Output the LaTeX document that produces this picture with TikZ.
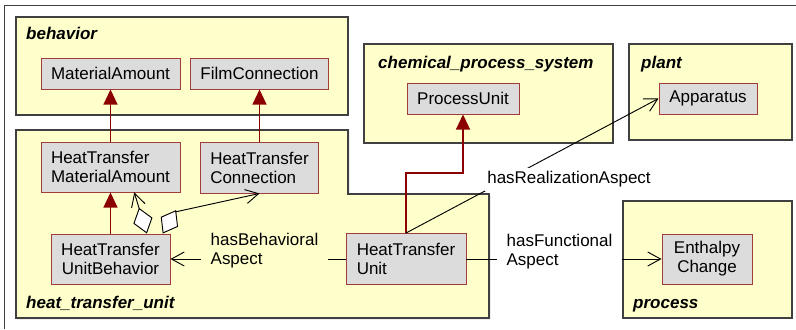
\documentclass[tikz,border=0pt]{standalone}
\usepackage{fontspec}
\setmainfont{Liberation Sans}
\usetikzlibrary{arrows.meta}

\definecolor{pkgfill}{HTML}{FFFFCC}
\definecolor{pkgline}{HTML}{404040}
\definecolor{boxfill}{HTML}{DCDCDC}
\definecolor{boxline}{HTML}{A03C3C}
\definecolor{genred}{HTML}{8B0000}
\newcommand{\umlfont}{\fontsize{14.5pt}{16.3pt}\selectfont}

\tikzset{
  pkg/.style={fill=pkgfill, draw=pkgline, line width=1pt,
    preaction={fill=black!55, transform canvas={xshift=1pt,yshift=-1pt}}},
  pkgtitle/.style={anchor=base west, inner sep=0pt, font=\umlfont\bfseries\itshape},
  sz/.style 2 args={minimum width=#1*0.03cm, minimum height=#2*0.03cm},
  cls/.style={draw=boxline, fill=boxfill, line width=0.8pt, inner sep=0pt},
  gen/.style={draw=genred, line width=1.3pt, -{Triangle[length=13pt,width=12pt]}},
  assoc/.style={line width=0.8pt, -{Straight Barb[length=11pt,width=12pt]}},
  agg/.style={line width=0.8pt, {Diamond[fill=white,length=23pt,width=17pt]}-{Straight Barb[length=11pt,width=12pt]}},
  rolelbl/.style={align=left, inner xsep=8.5pt, inner ysep=2pt}
}

\begin{document}
\begin{tikzpicture}[x=0.03cm,y=-0.03cm,every node/.style={font=\umlfont}]
\useasboundingbox (0,0) rectangle (796,329);
\draw[pkgline, line width=0.9pt] (4.5,329) |- (796,5.5);

% packages
\path[pkg] (16,17) rectangle (348,115);
\path[pkg] (364,44) rectangle (613,143);
\path[pkg] (629,44) rectangle (792,140);
\path[pkg] (16,130) -- (348,130) -- (348,194) -- (489,194) -- (489,318) -- (16,318) -- cycle;
\path[pkg] (623,201) rectangle (792,318);
\node[pkgtitle] (behtitle) at (26,39) {behavior};
\node[pkgtitle] (cpstitle) at (378,68) {chemical\_process\_system};
\node[pkgtitle] (planttitle) at (641,68) {plant};
\node[pkgtitle] (htutitle) at (26,308.5) {heat\_transfer\_unit};
\node[pkgtitle] (proctitle) at (633,308.5) {process};

% classes
\node[cls, sz={139}{31}] (matamount) at (110.5,73.5) {MaterialAmount};
\node[cls, sz={138}{31}] (filmconn) at (259.5,73.5) {FilmConnection};
\node[cls, sz={112}{31}] (procunit) at (463,98.5) {ProcessUnit};
\node[cls, sz={98}{31}] (apparatus) at (708,98.5) {Apparatus};
\node[cls, sz={139}{50}, align=left] (htmatamount) at (110.5,167) {HeatTransfer\\MaterialAmount};
\node[cls, sz={118}{51}, align=left] (htconn) at (259.5,167.5) {HeatTransfer\\Connection};
\node[cls, sz={119}{50}, align=center] (htunitbeh) at (110.5,259) {HeatTransfer\\UnitBehavior};
\node[cls, sz={120}{51}, align=left] (htunit) at (406,259) {HeatTransfer\\Unit};
\node[cls, sz={90}{50}, align=center] (enthalpy) at (707,259) {Enthalpy\\Change};

% generalizations
\draw[gen] (htmatamount.north) -- (matamount.south);
\draw[gen] (htconn.north) -- (filmconn.south);
\draw[gen] (htunitbeh.north) -- (htmatamount.south);
\draw[gen] (htunit.north) -- ++(0,-60) -| (procunit.south);

% associations
\coordinate (aggbend) at (175,212);
\draw[agg] (htunitbeh.35) -- (htmatamount.-47);
\draw[agg] (htunitbeh.26) -- (aggbend) -- (htconn.south);
\draw[assoc] (htunit.north) -- (apparatus.west);
\draw[assoc] (htunit.west) -- (htunitbeh.east);
\draw[assoc] (htunit.east) -- (enthalpy.west);
\node[rolelbl, fill=pkgfill] (behlbl) at (264.5,251) {hasBehavioral\\Aspect};
\node[rolelbl, fill=white] (funclbl) at (559.5,252) {hasFunctional\\Aspect};
\node[fill=white, inner xsep=2pt, inner ysep=3pt] (reallbl) at (569,179.5) {hasRealizationAspect};
\end{tikzpicture}
\end{document}
